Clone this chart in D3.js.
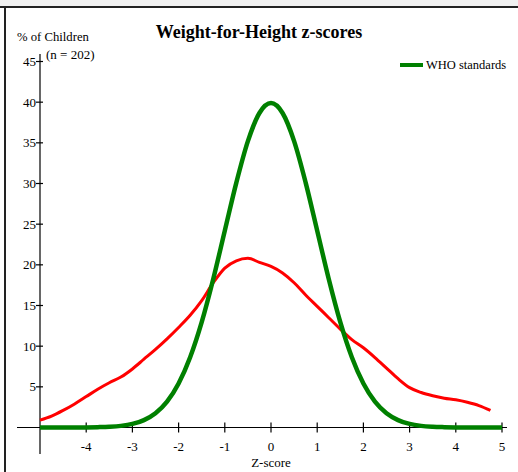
<!DOCTYPE html>
<html>
<head>
<meta charset="utf-8">
<script src="https://cdn.jsdelivr.net/npm/d3@7"></script>
<style>
    body { margin: 0; background: #fff; }
    svg { display: block; font-family: "Liberation Serif", "DejaVu Serif", serif; }
</style>
</head>
<body>
<svg id="chart" width="518" height="472"></svg>
<script>
// z-score grid (step 0.25)
const zValues = d3.range(-5, 5.001, 0.25).map(v => +v.toFixed(2));

// WHO standard curve, % of children at each z (-5 .. 5)
const whoValues = [
    0, 0, 0, 0, 0.01, 0.04, 0.09, 0.2, 0.44, 0.91,
    1.75, 3.17, 5.4, 8.63, 12.95, 18.26, 24.2, 30.11, 35.21, 38.67,
    39.89,
    38.67, 35.21, 30.11, 24.2, 18.26, 12.95, 8.63, 5.4, 3.17, 1.75,
    0.91, 0.44, 0.2, 0.09, 0.04, 0.01, 0, 0, 0, 0
];

// sample curve (n = 202), from -5 to 4.75
const sampleValues = [
    0.9, 1.4, 2.1, 2.9, 3.8, 4.7, 5.5, 6.2, 7.2, 8.4,
    9.6, 10.9, 12.3, 13.8, 15.6, 17.8, 19.6, 20.5, 20.8, 20.3,
    19.8, 19.0, 17.8, 16.3, 14.9, 13.5, 12.1, 10.8, 9.8, 8.6,
    7.3, 6.0, 4.9, 4.3, 3.9, 3.6, 3.4, 3.1, 2.7, 2.1
];

const xTicks = [-4, -3, -2, -1, 0, 1, 2, 3, 4, 5];
const yTicks = [5, 10, 15, 20, 25, 30, 35, 40, 45];

let svg = d3.select("#chart");

// frame
svg.append("rect").attr("x", 0).attr("y", 0).attr("width", 518).attr("height", 6).attr("fill", "#f0f0f0");
svg.append("line").attr("x1", 0).attr("x2", 518).attr("y1", 7).attr("y2", 7)
    .attr("stroke", "#222").attr("stroke-width", 2);
svg.append("line").attr("x1", 5).attr("x2", 5).attr("y1", 7).attr("y2", 472)
    .attr("stroke", "#222").attr("stroke-width", 2);

let x = d3.scaleLinear().domain([-5, 5]).range([40, 502]);
let y = d3.scaleLinear().domain([0, 45]).range([427.5, 61.5]);

// axes lines
svg.append("line").attr("x1", 17).attr("x2", 507).attr("y1", y(0)).attr("y2", y(0))
    .attr("stroke", "#000").attr("stroke-width", 1.2);
svg.append("line").attr("x1", x(-5)).attr("x2", x(-5)).attr("y1", 54).attr("y2", 454)
    .attr("stroke", "#000").attr("stroke-width", 1.2);

let gx = svg.append("g");
gx.selectAll("line").data(xTicks).enter().append("line")
    .attr("x1", d => x(d)).attr("x2", d => x(d))
    .attr("y1", y(0) - 5).attr("y2", y(0) + 5)
    .attr("stroke", "#000").attr("stroke-width", 1.2);
gx.selectAll("text").data(xTicks).enter().append("text")
    .attr("x", d => x(d)).attr("y", 451)
    .attr("text-anchor", "middle")
    .style("font-size", "13px")
    .text(d => d);

let gy = svg.append("g");
gy.selectAll("line").data(yTicks).enter().append("line")
    .attr("x1", x(-5) - 4).attr("x2", x(-5) + 3)
    .attr("y1", d => y(d)).attr("y2", d => y(d))
    .attr("stroke", "#000").attr("stroke-width", 1.2);
gy.selectAll("text").data(yTicks).enter().append("text")
    .attr("x", x(-5) - 4).attr("y", d => y(d) + 4.5)
    .attr("text-anchor", "end")
    .style("font-size", "13px")
    .text(d => d);

let line = d3.line()
    .x(d => x(d[0]))
    .y(d => y(d[1]))
    .curve(d3.curveMonotoneX);

svg.append("path")
    .datum(sampleValues.map((v, i) => [zValues[i], v]))
    .attr("fill", "none")
    .attr("stroke", "#ff0000")
    .attr("stroke-width", 3)
    .attr("d", line);

svg.append("path")
    .datum(whoValues.map((v, i) => [zValues[i], v]))
    .attr("fill", "none")
    .attr("stroke", "#008000")
    .attr("stroke-width", 4.5)
    .attr("d", line);

// texts
svg.append("text").attr("x", 259).attr("y", 38).attr("text-anchor", "middle")
    .style("font-size", "18px").style("font-weight", "bold")
    .text("Weight-for-Height z-scores");
svg.append("text").attr("x", 17).attr("y", 41).style("font-size", "12.7px").text("% of Children");
svg.append("text").attr("x", 46).attr("y", 59).style("font-size", "13px").text("(n = 202)");
svg.append("text").attr("x", 271).attr("y", 467).attr("text-anchor", "middle")
    .style("font-size", "13px").text("Z-score");

// legend
svg.append("line").attr("x1", 400).attr("x2", 423).attr("y1", 65).attr("y2", 65)
    .attr("stroke", "#008000").attr("stroke-width", 4);
svg.append("text").attr("x", 426).attr("y", 69).style("font-size", "12.5px").text("WHO standards");
</script>
</body>
</html>
